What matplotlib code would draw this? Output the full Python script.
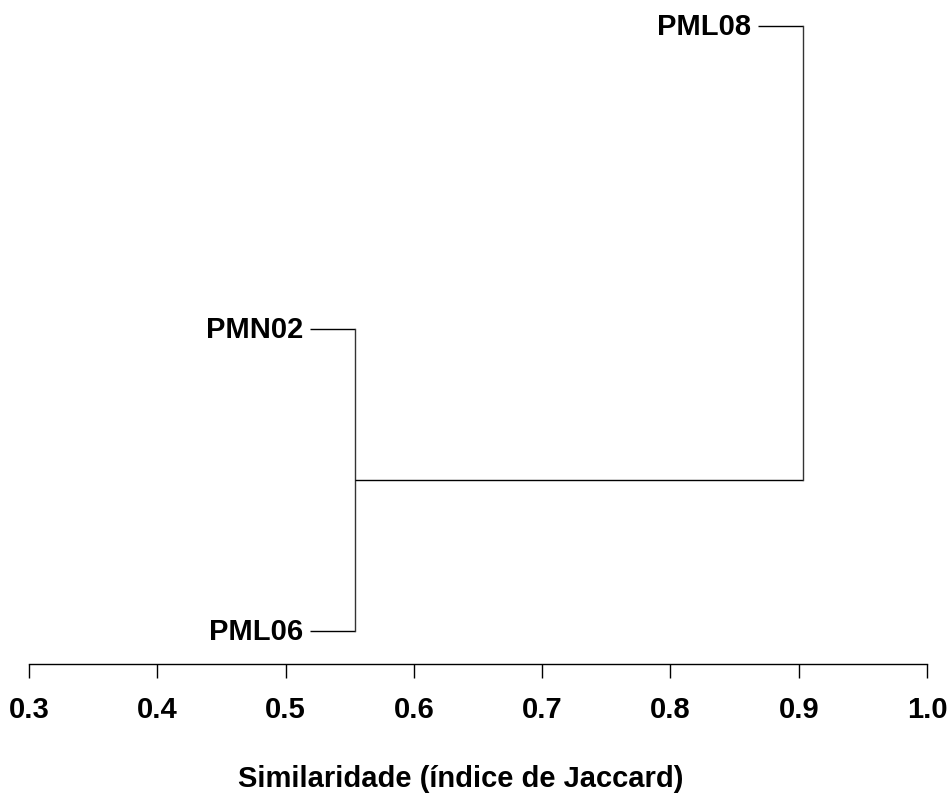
import matplotlib
matplotlib.use("Agg")
import matplotlib.pyplot as plt

plt.rcParams['font.family'] = ['Liberation Sans', 'DejaVu Sans']
plt.rcParams['font.weight'] = 'bold'

# leaves from bottom to top
leaves = ["PML06", "PMN02", "PML08"]
# merges: (left child, right child, similarity)
merges = [(0, 1, 0.554), (3, 2, 0.903)]
hang = 0.035
xticks = [0.3, 0.4, 0.5, 0.6, 0.7, 0.8, 0.9, 1.0]

fig = plt.figure(figsize=(9.52, 8.03), dpi=100)
W, H = 952, 803
ax = fig.add_axes([29 / W, (H - 665) / H, (927 - 29) / W, (665 - 27) / H])

# node position (y) and height (x) for leaves and internal nodes
ypos = {i: i + 1 for i in range(len(leaves))}
xh = {}
parent_h = {}
for k, (a, b, h) in enumerate(merges):
    parent_h[a] = h
    parent_h[b] = h
for i in range(len(leaves)):
    xh[i] = parent_h[i] - hang

lw = 1.0
for k, (a, b, h) in enumerate(merges):
    node = len(leaves) + k
    for c in (a, b):
        ax.plot([xh[c], h], [ypos[c], ypos[c]], color='black', lw=lw,
                clip_on=False, solid_capstyle='butt')
    ax.plot([h, h], [ypos[a], ypos[b]], color='#333333', lw=lw,
            clip_on=False, solid_capstyle='projecting')
    ypos[node] = (ypos[a] + ypos[b]) / 2
    xh[node] = h

fs = 21
for i, name in enumerate(leaves):
    ax.annotate(name, (xh[i], ypos[i]), xytext=(-5, 0),
                textcoords='offset points', ha='right', va='center',
                fontsize=fs, fontweight='bold', annotation_clip=False)

ax.set_xlim(0.3, 1.0)
ax.set_ylim(3 - 638 / 302.5, 3)
ax.set_xticks(xticks)
ax.set_xticklabels([f"{t:.1f}" for t in xticks], fontsize=fs, fontweight='bold')
ax.set_yticks([])
for s in ('top', 'right', 'left'):
    ax.spines[s].set_visible(False)
ax.spines['bottom'].set_linewidth(1.0)
ax.tick_params(axis='x', direction='out', length=10, width=1.0, pad=12)
ax.set_xlabel("Similaridade (índice de Jaccard)", fontsize=fs,
              fontweight='bold', labelpad=30)
ax.xaxis.label.set_x(0.4805)
ax.patch.set_alpha(0)

fig.savefig("out.png", dpi=100)
